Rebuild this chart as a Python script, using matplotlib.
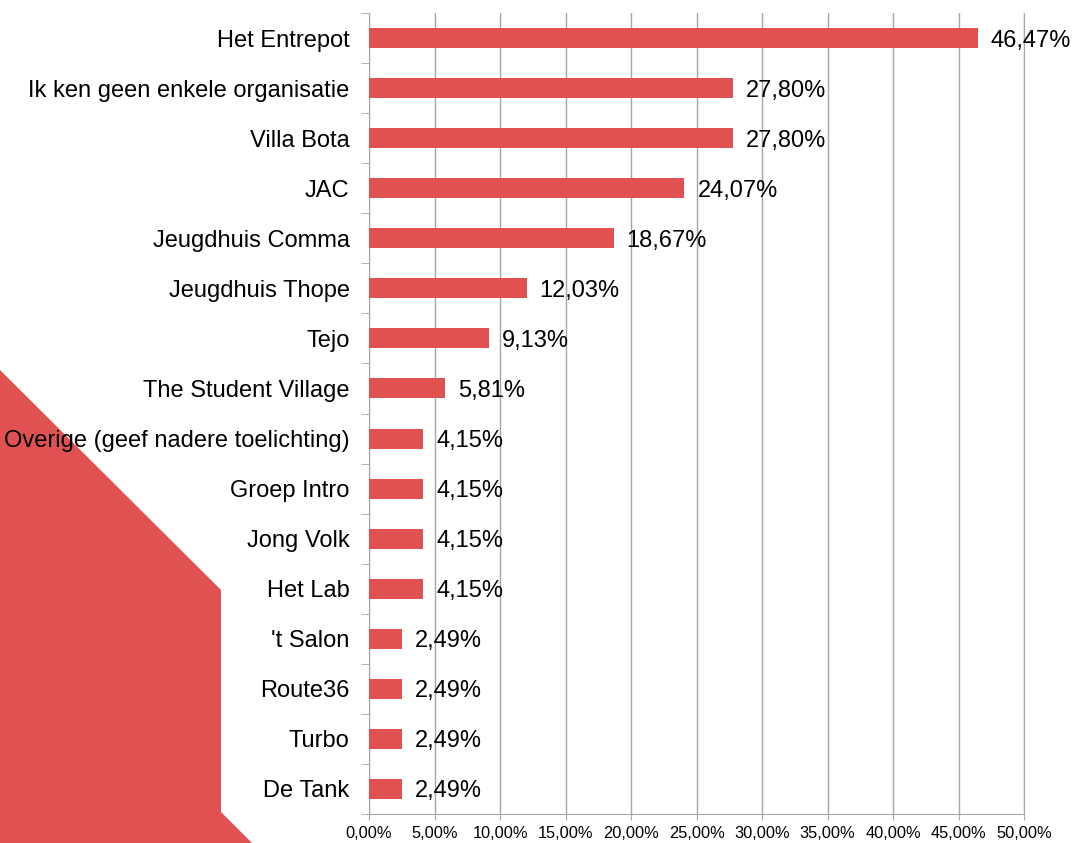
import matplotlib.pyplot as plt
from matplotlib.patches import Polygon
from matplotlib.ticker import FuncFormatter
import numpy as np

plt.rcParams['font.family'] = ['Liberation Sans', 'DejaVu Sans']

categories = ["Het Entrepot", "Ik ken geen enkele organisatie", "Villa Bota", "JAC",
              "Jeugdhuis Comma", "Jeugdhuis Thope", "Tejo", "The Student Village",
              "Overige (geef nadere toelichting)", "Groep Intro", "Jong Volk", "Het Lab",
              "'t Salon", "Route36", "Turbo", "De Tank"]
values = [46.47, 27.80, 27.80, 24.07, 18.67, 12.03, 9.13, 5.81,
          4.15, 4.15, 4.15, 4.15, 2.49, 2.49, 2.49, 2.49]

red = "#E05252"
grey = "#A6A6A6"

fig = plt.figure(figsize=(10.72, 8.43), dpi=100)

# decorative shape in the lower left corner, behind the axes
W, H = 1072, 843
pts = [(0, 370), (221, 590), (221, 812), (252, 843), (0, 843)]
fig.patches.append(Polygon([(x / W, 1 - y / H) for x, y in pts], closed=True,
                           transform=fig.transFigure, facecolor=red, edgecolor="none",
                           zorder=-10))

ax = fig.add_axes([369 / W, 1 - 814 / H, (1024 - 369) / W, (814 - 13) / H])
ax.patch.set_alpha(0)

n = len(categories)
y = np.arange(n)[::-1]
ax.barh(y, values, height=0.4, color=red, zorder=3)
for yi, v in zip(y, values):
    ax.text(v + 1.0, yi, ("%.2f%%" % v).replace(".", ","), va="center_baseline", ha="left",
            fontsize=17, color="black", zorder=4)

ax.set_xlim(0, 50)
ax.set_ylim(-0.5, n - 0.5)
ax.set_xticks(np.arange(0, 51, 5))
ax.xaxis.set_major_formatter(FuncFormatter(lambda v, p: ("%.2f%%" % v).replace(".", ",")))
ax.tick_params(axis="x", labelsize=11.8, length=4, color=grey, pad=5)
ax.grid(axis="x", color=grey, linewidth=1, zorder=0)

ax.set_yticks(y)
ax.set_yticklabels(categories, fontsize=17)
ax.set_yticks(np.arange(-0.5, n, 1), minor=True)
ax.tick_params(axis="y", which="major", length=0, pad=14)
ax.tick_params(axis="y", which="minor", length=6, color=grey)

ax.spines["top"].set_visible(False)
for s in ["left", "bottom", "right"]:
    ax.spines[s].set_color(grey)

fig.savefig("out.png", dpi=100)
